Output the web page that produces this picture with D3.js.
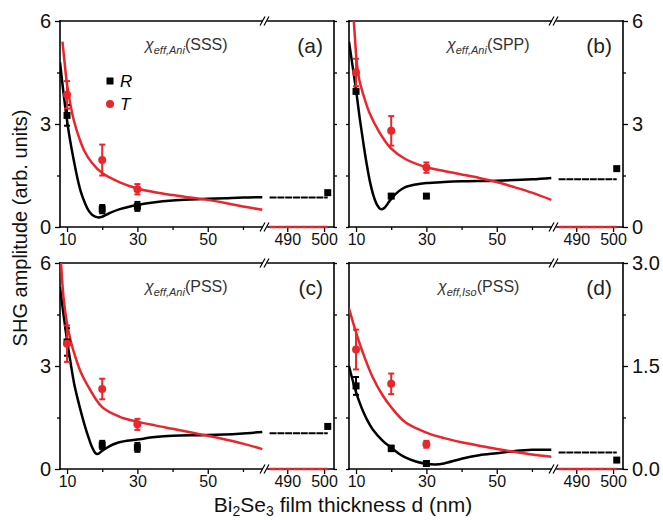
<!DOCTYPE html>
<html>
<head>
<meta charset="utf-8">
<script src="https://cdn.jsdelivr.net/npm/d3@7"></script>
<style>
body { margin: 0; background: #fff; }
text { font-family: Arial, "Liberation Sans", sans-serif; }
</style>
</head>
<body>
<script>
// panel labels and titles
var panelTags = ["(a)", "(b)", "(c)", "(d)"]
var titleSubs = ["eff,Ani", "eff,Ani", "eff,Ani", "eff,Iso"]
var titleModes = ["(SSS)", "(SPP)", "(PSS)", "(PSS)"]
var yMaxes = [6, 6, 6, 3]
var yTickLabels = [["0", "3", "6"], ["0", "3", "6"], ["0", "3", "6"], ["0.0", "1.5", "3.0"]]
var xTicksLeft = [10, 30, 50]
var xMinorLeft = [20, 40, 60]
var xTicksRight = [490, 500]

// fit curves [d, amplitude]
var rFitA = [[8,4.8],[9,3.9],[10,3.1],[11,2.45],[12,1.9],[13,1.4],[14,1.0],[15,0.72],[16,0.5],[17,0.37],[18,0.3],[19,0.28],[20,0.3],[22,0.4],[25,0.52],[30,0.64],[35,0.72],[40,0.77],[45,0.8],[50,0.82],[55,0.84],[60,0.86],[65.5,0.87]]
var tFitA = [[8.7,5.4],[9.5,4.6],[10,4.15],[11,3.55],[12,3.08],[13.5,2.58],[15,2.2],[17,1.88],[20,1.57],[25,1.3],[30,1.12],[35,1.01],[40,0.93],[45,0.86],[50,0.79],[55,0.7],[60,0.6],[65.5,0.5]]
var rFitB = [[8,5.4],[9,4.7],[10,4.0],[11,3.2],[12,2.5],[13,1.85],[14,1.3],[15,0.9],[16,0.64],[17,0.52],[18,0.55],[19,0.68],[20,0.82],[22,1.03],[24,1.16],[27,1.24],[30,1.28],[35,1.31],[40,1.33],[50,1.35],[60,1.39],[65.5,1.43]]
var tFitB = [[9.3,6.1],[9.7,5.5],[10.2,4.8],[11,4.25],[12,3.88],[13.8,3.33],[16.7,2.75],[20,2.28],[24,1.98],[30,1.74],[35,1.63],[40,1.53],[45,1.43],[50,1.31],[55,1.16],[60,1.0],[65.5,0.79]]
var rFitC = [[8,5.3],[9,4.5],[10,3.75],[11,3.1],[12,2.5],[13,2.05],[14,1.65],[15,1.28],[16,0.95],[17,0.66],[18,0.47],[18.5,0.44],[19,0.45],[20,0.53],[22,0.66],[24,0.75],[27,0.82],[30,0.86],[35,0.93],[40,0.97],[50,0.99],[59,1.03],[65.5,1.08]]
var tFitC = [[8.3,6.0],[9,5.0],[10,4.23],[11,3.75],[11.8,3.45],[13.7,2.87],[15.6,2.48],[20,1.8],[25,1.52],[30,1.38],[35,1.27],[40,1.17],[45,1.07],[50,0.97],[55,0.86],[60,0.74],[65.5,0.58]]
var rFitD = [[8,1.5],[9,1.3],[10,1.12],[11,0.97],[12,0.84],[13,0.73],[14.7,0.58],[17.6,0.41],[20,0.31],[22,0.23],[24,0.17],[27,0.11],[30,0.075],[32.5,0.065],[35,0.08],[40,0.15],[45,0.2],[50,0.23],[55,0.26],[60,0.28],[65.5,0.28]]
var tFitD = [[8,2.34],[10,1.99],[11.9,1.7],[14.7,1.34],[17.6,1.07],[20,0.9],[24,0.68],[30,0.53],[35,0.45],[40,0.39],[45,0.34],[50,0.29],[55,0.25],[60,0.21],[65.5,0.18]]

// measured points [d, amplitude, error]
var rDataA = [[10,3.25,0.3],[20,0.52,0.12],[30,0.6,0.13],[501,1.0,0]]
var tDataA = [[10,3.85,0.4],[20,1.95,0.45],[30,1.1,0.15]]
var rDataB = [[10,3.95,0],[20,0.9,0],[30,0.9,0],[501,1.7,0]]
var tDataB = [[10,4.5,0.4],[20,2.8,0.43],[30,1.73,0.15]]
var rDataC = [[10,3.7,0.4],[20,0.7,0.12],[30,0.63,0.13],[501,1.24,0]]
var tDataC = [[10,3.65,0.53],[20,2.33,0.3],[30,1.3,0.16]]
var rDataD = [[10,1.21,0.13],[20,0.3,0.04],[30,0.08,0.03],[501,0.13,0]]
var tDataD = [[10,1.74,0.29],[20,1.24,0.15],[30,0.36,0.05]]

// thick film level (R) and T level beyond the break
var rThick = [0.86, 1.39, 1.04, 0.24]
var tThick = [0, 0, 0, 0]

var rFits = [rFitA, rFitB, rFitC, rFitD]
var tFits = [tFitA, tFitB, tFitC, tFitD]
var rData = [rDataA, rDataB, rDataC, rDataD]
var tData = [tDataA, tDataB, tDataC, tDataD]

var red = "#e8262b"

var svg = d3.select("body").append("svg").attr("width", 663).attr("height", 520)

var lefts = [60, 349, 60, 349]
var tops = [21, 21, 263, 263]
var pw = 274, ph = 206
var segW = 203, gap = 4

for (var p = 0; p < 4; p++) {
  drawPanel(p)
}

function drawPanel(p) {
  var x0 = lefts[p], y0 = tops[p]
  var x1 = x0 + pw, y1 = y0 + ph
  var isRight = (p % 2 == 1)
  var g = svg.append("g")

  var xL = d3.scaleLinear().domain([8, 65.7]).range([x0, x0 + segW])
  var xR = d3.scaleLinear().domain([484.5, 502.7]).range([x0 + segW + gap, x1])
  var y = d3.scaleLinear().domain([0, yMaxes[p]]).range([y1, y0])

  var clipId = "clip" + p
  svg.append("clipPath").attr("id", clipId).append("rect")
    .attr("x", x0).attr("y", y0).attr("width", segW).attr("height", ph)

  // frame with breaks
  var bx = x0 + segW
  var frame = [[x0, y0, bx - 1, y0], [bx + gap + 1, y0, x1, y0],
               [x0, y1, bx - 1, y1], [bx + gap + 1, y1, x1, y1],
               [x0, y0, x0, y1], [x1, y0, x1, y1]]
  frame.forEach(function(f) {
    g.append("line").attr("x1", f[0]).attr("y1", f[1]).attr("x2", f[2]).attr("y2", f[3])
      .attr("stroke", "black").attr("stroke-width", 1.6).attr("stroke-linecap", "square")
  })
  ;[y0, y1].forEach(function(yy) {
    ;[-3, 1].forEach(function(o) {
      g.append("line").attr("x1", bx + o).attr("y1", yy + 4.5).attr("x2", bx + o + 5).attr("y2", yy - 4.5)
        .attr("stroke", "black").attr("stroke-width", 1.2)
    })
  })

  // x axes
  var axL = g.append("g").attr("transform", "translate(0," + y1 + ")")
    .call(d3.axisBottom(xL).tickValues(xTicksLeft).tickSize(5).tickPadding(2))
  var axLm = g.append("g").attr("transform", "translate(0," + y1 + ")")
    .call(d3.axisBottom(xL).tickValues(xMinorLeft).tickSize(3).tickFormat(""))
  var axR = g.append("g").attr("transform", "translate(0," + y1 + ")")
    .call(d3.axisBottom(xR).tickValues(xTicksRight).tickSize(5).tickPadding(2))
  ;[axL, axLm, axR].forEach(function(a) {
    a.select(".domain").remove()
    a.selectAll("line").attr("stroke-width", 1.3)
    a.selectAll("text").attr("font-size", 16).attr("fill", "#111")
      .attr("font-family", "Arial, 'Liberation Sans', sans-serif")
  })

  // y axes
  var yMajor = [0, yMaxes[p] / 2, yMaxes[p]]
  var yMinor = [yMaxes[p] / 4, yMaxes[p] * 3 / 4]
  var axisSide = isRight ? d3.axisRight : d3.axisLeft
  var outX = isRight ? x1 : x0
  var inX = isRight ? x0 : x1
  var labs = yTickLabels[p]
  var ay = g.append("g").attr("transform", "translate(" + outX + ",0)")
    .call(axisSide(y).tickValues(yMajor).tickSize(5).tickPadding(4)
      .tickFormat(function(d, i) { return labs[i] }))
  var aym = g.append("g").attr("transform", "translate(" + outX + ",0)")
    .call(axisSide(y).tickValues(yMinor).tickSize(3).tickFormat(""))
  var ayIn = g.append("g").attr("transform", "translate(" + inX + ",0)")
    .call(axisSide(y).tickValues(yMajor.concat(yMinor)).tickSize(-3).tickFormat(""))
  ;[ay, aym, ayIn].forEach(function(a) {
    a.select(".domain").remove()
    a.selectAll("line").attr("stroke-width", 1.3)
    a.selectAll("text").attr("font-size", 20).attr("fill", "#111")
      .attr("font-family", "Arial, 'Liberation Sans', sans-serif")
  })

  // fits
  var line = d3.line().x(function(d) { return xL(d[0]) }).y(function(d) { return y(d[1]) })
    .curve(d3.curveCatmullRom.alpha(0.5))
  g.append("path").datum(rFits[p]).attr("d", line).attr("clip-path", "url(#" + clipId + ")")
    .attr("fill", "none").attr("stroke", "black").attr("stroke-width", 2.5)
  g.append("path").datum(tFits[p]).attr("d", line).attr("clip-path", "url(#" + clipId + ")")
    .attr("fill", "none").attr("stroke", red).attr("stroke-width", 2.5)

  // levels past the break
  g.append("line").attr("x1", xR(485.2)).attr("x2", xR(501))
    .attr("y1", y(rThick[p])).attr("y2", y(rThick[p]))
    .attr("stroke", "black").attr("stroke-width", 2).attr("stroke-dasharray", "7,0.8")
  g.append("line").attr("x1", xR(485.2)).attr("x2", xR(501))
    .attr("y1", y(tThick[p])).attr("y2", y(tThick[p]))
    .attr("stroke", red).attr("stroke-width", 2.5).attr("stroke-dasharray", "7,0.8")

  function xOf(d) { return d > 100 ? xR(d) : xL(d) }

  // error bars + markers
  drawErr(g, rData[p], xOf, y, "black")
  drawErr(g, tData[p], xOf, y, red)
  g.selectAll(".sq").data(rData[p]).enter().append("rect")
    .attr("x", function(d) { return xOf(d[0]) - 3.5 })
    .attr("y", function(d) { return y(d[1]) - 3.5 })
    .attr("width", 7).attr("height", 7).attr("fill", "black")
  g.selectAll(".ci").data(tData[p]).enter().append("circle")
    .attr("cx", function(d) { return xOf(d[0]) })
    .attr("cy", function(d) { return y(d[1]) })
    .attr("r", 4).attr("fill", red)

  // title
  var tx = x0 + (isRight ? (p == 3 ? 89 : 98) : 85)
  var t = g.append("text").attr("x", tx).attr("y", y0 + 29).attr("font-size", 16).attr("fill", "#333")
  t.append("tspan").attr("font-style", "italic").text("\u03c7")
  t.append("tspan").attr("font-style", "italic").attr("font-size", 11).attr("dy", 4).text(titleSubs[p])
  t.append("tspan").attr("dy", -4).text(titleModes[p])

  g.append("text").attr("x", x1 - 11).attr("y", y0 + 32).attr("text-anchor", "end")
    .attr("font-size", 21).attr("fill", "#222").text(panelTags[p])

  if (p == 0) {
    g.append("rect").attr("x", 106.5).attr("y", 77.5).attr("width", 7).attr("height", 7).attr("fill", "black")
    g.append("text").attr("x", 120).attr("y", 87).attr("font-size", 17).attr("font-style", "italic").text("R")
    g.append("circle").attr("cx", 110).attr("cy", 104).attr("r", 4).attr("fill", red)
    g.append("text").attr("x", 120).attr("y", 110).attr("font-size", 17).attr("font-style", "italic").text("T")
  }
}

function drawErr(g, data, xOf, y, color) {
  data.forEach(function(d) {
    if (!d[2]) return
    var cx = xOf(d[0]), ya = y(d[1] + d[2]), yb = y(d[1] - d[2])
    g.append("line").attr("x1", cx).attr("x2", cx).attr("y1", ya).attr("y2", yb)
      .attr("stroke", color).attr("stroke-width", 2)
    ;[ya, yb].forEach(function(yy) {
      g.append("line").attr("x1", cx - 3).attr("x2", cx + 3).attr("y1", yy).attr("y2", yy)
        .attr("stroke", color).attr("stroke-width", 2)
    })
  })
}

// axis titles
var yl = svg.append("text").attr("transform", "translate(27,228) rotate(-90)")
  .attr("text-anchor", "middle").attr("font-size", 20).attr("fill", "#111")
yl.text("SHG amplitude (arb. units)")

var xl = svg.append("text").attr("x", 343).attr("y", 512).attr("text-anchor", "middle")
  .attr("font-size", 21).attr("fill", "#111")
xl.append("tspan").text("Bi")
xl.append("tspan").attr("font-size", 14).attr("dy", 4).text("2")
xl.append("tspan").attr("dy", -4).text("Se")
xl.append("tspan").attr("font-size", 14).attr("dy", 4).text("3")
xl.append("tspan").attr("dy", -4).text(" film thickness d (nm)")
</script>
</body>
</html>
